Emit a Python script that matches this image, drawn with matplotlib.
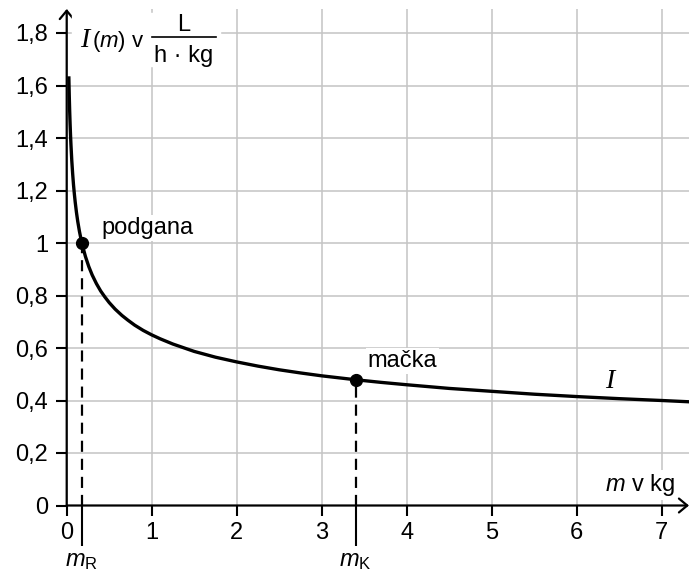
import matplotlib.pyplot as plt
from matplotlib.lines import Line2D
from matplotlib.patches import Rectangle

plt.rcParams['font.family'] = 'Liberation Sans'
plt.rcParams['mathtext.fontset'] = 'custom'
plt.rcParams['mathtext.rm'] = 'Liberation Sans'
plt.rcParams['mathtext.it'] = 'Liberation Sans:italic'
plt.rcParams['lines.scale_dashes'] = False

# curve I(m)
m_curve = [0.025, 0.03, 0.035, 0.04, 0.045, 0.05, 0.06, 0.07, 0.08, 0.09,
           0.1, 0.115, 0.13, 0.15, 0.17, 0.19, 0.22, 0.26, 0.3, 0.35,
           0.4, 0.45, 0.5, 0.57, 0.65, 0.72, 0.8, 0.9, 1.0, 1.1,
           1.25, 1.5, 1.75, 2.0, 2.25, 2.5, 2.75, 3.0, 3.4, 3.7,
           4.0, 4.5, 5.0, 5.5, 6.0, 6.5, 7.0, 7.33]
I_curve = [1.635, 1.562, 1.503, 1.453, 1.411, 1.375, 1.313, 1.264, 1.222,
           1.187, 1.156, 1.116, 1.082, 1.044, 1.012, 0.985, 0.949, 0.910,
           0.878, 0.845, 0.817, 0.794, 0.773, 0.748, 0.724, 0.706, 0.687,
           0.667, 0.650, 0.635, 0.615, 0.587, 0.565, 0.547, 0.531, 0.517,
           0.505, 0.494, 0.479, 0.469, 0.460, 0.446, 0.435, 0.424, 0.415,
           0.407, 0.400, 0.395]

# marked animals
m_pts = [0.175, 3.4]
I_pts = [1.0, 0.478]
pt_names = ['podgana', 'mačka']
pt_ticks = [r'$m_{\mathrm{R}}$', r'$m_{\mathrm{K}}$']

x_ticks = [0, 1, 2, 3, 4, 5, 6, 7]
y_ticks = [0, 0.2, 0.4, 0.6, 0.8, 1.0, 1.2, 1.4, 1.6, 1.8]
y_labels = ['0', '0,2', '0,4', '0,6', '0,8', '1', '1,2', '1,4', '1,6', '1,8']

W, H = 689, 578
FS = 17
FS_I = 20
fig = plt.figure(figsize=(W / 100, H / 100), dpi=100)
x0, y0, ytop = 66.7, 505.5, 9
ax = fig.add_axes([x0 / W, (H - y0) / H, 1 - x0 / W, (y0 - ytop) / H])
ax.set_xlim(0, (W - x0) / 85.0)
ax.set_ylim(0, (y0 - ytop) / 262.5)

for s in ax.spines.values():
    s.set_visible(False)

ax.set_xticks(x_ticks)
ax.set_xticklabels([str(v) for v in x_ticks])
ax.set_yticks(y_ticks)
ax.set_yticklabels(y_labels)
ax.set_xticks(m_pts, minor=True)
ax.set_xticklabels(pt_ticks, minor=True)
ax.tick_params(axis='both', which='major', direction='out', width=1.5,
               labelsize=FS, color='black')
ax.tick_params(axis='x', which='major', length=7, pad=5)
ax.tick_params(axis='y', which='major', length=8, pad=5.5)
ax.tick_params(axis='x', which='minor', length=29, width=1.5, pad=3,
               labelsize=FS)
ax.grid(True, which='major', color='#c4c4c4', lw=1.1)
ax.set_axisbelow(True)

# axes with arrows
arrow = dict(arrowstyle='->,head_length=0.6,head_width=0.5', lw=1.6,
             color='black', shrinkA=0, shrinkB=0, mutation_scale=10)
ax.annotate('', xy=(1, 0), xytext=(0, 0), xycoords='axes fraction',
            arrowprops=arrow, annotation_clip=False)
ax.annotate('', xy=(0, 1), xytext=(0, 0), xycoords='axes fraction',
            arrowprops=arrow, annotation_clip=False)

ax.plot(m_curve, I_curve, color='black', lw=2.4, zorder=3, clip_on=False,
        solid_capstyle='butt', solid_joinstyle='round')
for m, v in zip(m_pts, I_pts):
    ax.plot([m, m], [0, v], color='black', lw=1.6, dashes=(8, 5), zorder=2)
ax.plot(m_pts, I_pts, 'o', color='black', ms=8.5, zorder=4)

box = dict(facecolor='white', edgecolor='none', pad=1.5)
ax.annotate(pt_names[0], (m_pts[0], I_pts[0]), xytext=(20, 9),
            textcoords='offset pixels', fontsize=FS, va='baseline',
            bbox=box, zorder=5)
ax.annotate(pt_names[1], (m_pts[1], I_pts[1]), xytext=(12, 13),
            textcoords='offset pixels', fontsize=FS, va='baseline',
            bbox=box, zorder=5)

ax.text(6.39, 0.448, 'I', family='Liberation Serif', style='italic',
        fontsize=FS_I, ha='center', va='baseline')
ax.text(6.33, 0.055, r'$m$ v kg', fontsize=FS, va='baseline', bbox=box,
        zorder=5)

# y-axis label  I(m) v L/(h·kg)
def fp(x, y):
    return x / W, 1 - y / H

fig.patches.append(Rectangle(fp(72, 66), 148 / W, 53 / H, color='white',
                             transform=fig.transFigure, zorder=1))
fig.text(*fp(80, 47), 'I', family='Liberation Serif', style='italic',
         fontsize=FS_I, va='baseline', zorder=3)
fig.text(*fp(92, 47), r'($m$) v', fontsize=16, va='baseline', zorder=3)
fig.text(*fp(184, 31), 'L', fontsize=FS, va='baseline', ha='center',
         zorder=3)
fig.text(*fp(184, 62), 'h · kg', fontsize=FS, va='baseline', ha='center',
         zorder=3)
fig.lines.append(Line2D([152 / W, 216 / W], [1 - 37 / H, 1 - 37 / H],
                        transform=fig.transFigure, color='black', lw=1.2,
                        zorder=3))

fig.savefig('out.png', dpi=100)
